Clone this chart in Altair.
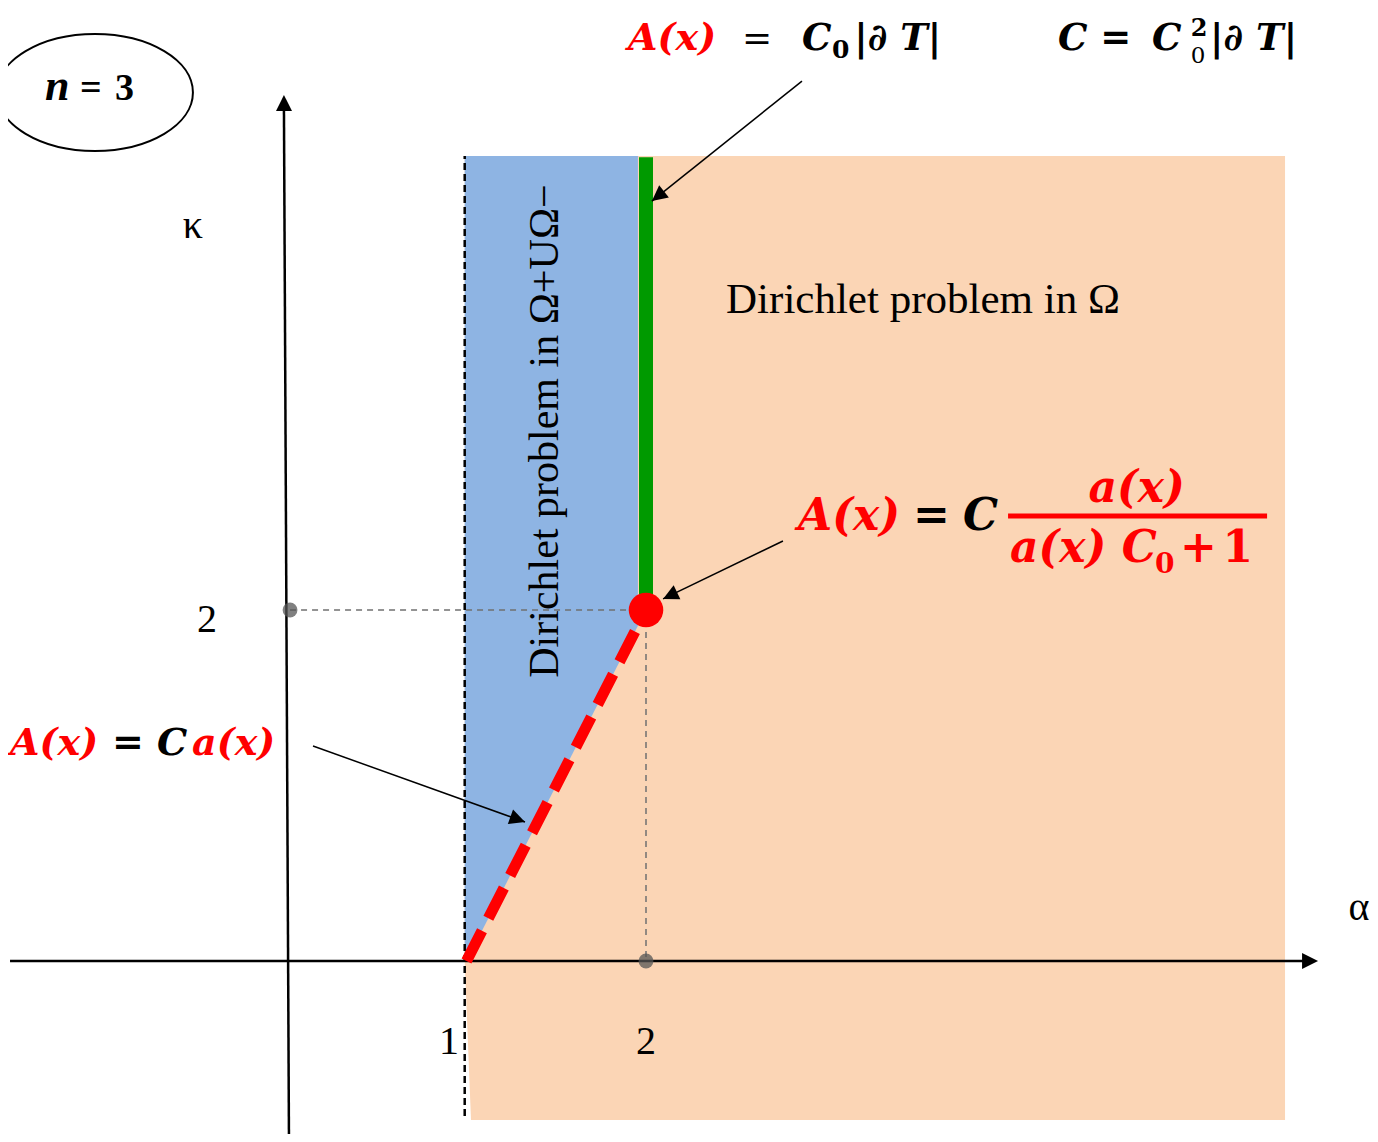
import math
import altair as alt
import pandas as pd

# ---------------- canvas / scale calibration (data units: alpha, kappa) ----------------
W, H = 1362, 1126
X_DOM = [-1.5543, 6.0334]
Y_DOM = [-0.9858, 5.4302]
PXA = W / (X_DOM[1] - X_DOM[0])   # px per unit alpha
PXK = H / (Y_DOM[1] - Y_DOM[0])   # px per unit kappa

xs = alt.Scale(domain=X_DOM, nice=False, zero=False)
ys = alt.Scale(domain=Y_DOM, nice=False, zero=False)

# ---------------- data ----------------
# peach region (Dirichlet problem in Omega)
peach_k = [-0.906, 0.0, 4.587]
peach_left = [1.025, 0.99, 0.99]
peach_right = [5.56, 5.56, 5.56]

# blue region (Dirichlet problem in Omega+ U Omega-)
blue_a = [0.99, 1.0, 1.955]
blue_top = [4.587, 4.587, 4.587]
blue_bot = [0.0, 0.0, 1.91]

# green boundary alpha = 2, kappa >= 2
green_seg = [[2.0, 2.05, 2.0, 4.58]]
# red dashed boundary kappa = 2(alpha - 1)
red_seg = [[1.0, 0.0, 2.0, 2.0]]
# critical point
crit_a, crit_k = [2.0], [2.0]
# gray guide lines and dots
guide_segs = [[0.017, 2.0, 2.0, 2.0], [2.0, 2.0, 2.0, 0.0]]
dot_a, dot_k = [0.017, 2.0], [2.0, 0.0]
# black dashed line alpha = 1
vdash_seg = [[0.99, -0.883, 0.99, 4.587]]
# coordinate axes: [start_a, start_k, end_a, end_k], tips
axis_segs = [[-1.543, 0.0, 5.66, 0.0], [0.011, -1.02, -0.017, 4.85]]
axis_tips = [[5.744, 0.0], [-0.017, 4.934]]
# annotation arrows: start -> tip
arrow_start = [[2.869, 5.014], [2.763, 2.393], [0.145, 1.225]]
arrow_tip = [[2.033, 4.330], [2.095, 2.063], [1.326, 0.792]]

# labels
tick_text = ["1", "2", "2"]
tick_a = [0.903, 2.0, -0.446]
tick_k = [-0.530, -0.530, 1.875]
axis_names = ["κ", "α"]
axis_name_a = [-0.524, 5.972]
axis_name_k = [4.12, 0.234]

# ---------------- helpers ----------------
def seg_df(segs):
    return pd.DataFrame(segs, columns=["a", "k", "a2", "k2"])


def rule_layer(segs, **mk):
    return alt.Chart(seg_df(segs)).mark_rule(**mk).encode(
        x=alt.X("a:Q", scale=xs, axis=None),
        y=alt.Y("k:Q", scale=ys, axis=None),
        x2="a2:Q",
        y2="k2:Q",
    )


def heading(p_from, p_to):
    dx = (p_to[0] - p_from[0]) * PXA
    dy = -(p_to[1] - p_from[1]) * PXK
    return math.degrees(math.atan2(dx, -dy)) % 360


def text_layer(texts, a, k, **mk):
    df = pd.DataFrame({"t": texts, "a": a, "k": k})
    return alt.Chart(df).mark_text(**mk).encode(
        x=alt.X("a:Q", scale=xs, axis=None),
        y=alt.Y("k:Q", scale=ys, axis=None),
        text="t:N",
    )


PEACH = "#FBD5B5"
BLUE = "#8EB4E3"
GREEN = "#009A00"
RED = "#FF0000"
SERIF = "Liberation Serif"
MATH = "DejaVu Serif"

BI = dict(font=MATH, fontWeight="bold", fontStyle="italic", align="left", baseline="alphabetic")

# ---------------- layers ----------------
peach = alt.Chart(pd.DataFrame({"k": peach_k, "a": peach_left, "a2": peach_right})).mark_area(
    orient="horizontal", color=PEACH, opacity=1
).encode(
    y=alt.Y("k:Q", scale=ys, axis=None),
    x=alt.X("a:Q", scale=xs, axis=None),
    x2="a2:Q",
)

blue = alt.Chart(pd.DataFrame({"a": blue_a, "k": blue_top, "k2": blue_bot})).mark_area(
    color=BLUE, opacity=1
).encode(
    x=alt.X("a:Q", scale=xs, axis=None),
    y=alt.Y("k:Q", scale=ys, axis=None),
    y2="k2:Q",
)

vdash = rule_layer(vdash_seg, color="black", strokeWidth=2.5, strokeDash=[7, 4])
guides = rule_layer(guide_segs, color="#707070", strokeWidth=1.5, strokeDash=[6, 5])
axes = rule_layer(axis_segs, color="black", strokeWidth=2.5)
green = rule_layer(green_seg, color=GREEN, strokeWidth=14, strokeCap="butt")
red = rule_layer(red_seg, color=RED, strokeWidth=11, strokeDash=[34, 14], strokeCap="butt")

crit = alt.Chart(pd.DataFrame({"a": crit_a, "k": crit_k})).mark_point(
    shape="circle", filled=True, size=1195, color=RED, opacity=1
).encode(x=alt.X("a:Q", scale=xs, axis=None), y=alt.Y("k:Q", scale=ys, axis=None))

dots = alt.Chart(pd.DataFrame({"a": dot_a, "k": dot_k})).mark_point(
    shape="circle", filled=True, size=220, color="#555555", opacity=0.75
).encode(x=alt.X("a:Q", scale=xs, axis=None), y=alt.Y("k:Q", scale=ys, axis=None))

arrow_lines = rule_layer(
    [[s[0], s[1], t[0], t[1]] for s, t in zip(arrow_start, arrow_tip)],
    color="black", strokeWidth=1.5,
)

HEAD = "M0,0L1,2L-1,2Z"
heads = []
for seg, tip in zip(axis_segs, axis_tips):
    heads.append({"a": tip[0], "k": tip[1], "ang": heading((seg[0], seg[1]), tip), "s": 256})
for s, t in zip(arrow_start, arrow_tip):
    heads.append({"a": t[0], "k": t[1], "ang": heading(s, t), "s": 240})
arrowheads = alt.Chart(pd.DataFrame(heads)).mark_point(
    shape=HEAD, filled=True, color="black", opacity=1
).encode(
    x=alt.X("a:Q", scale=xs, axis=None),
    y=alt.Y("k:Q", scale=ys, axis=None),
    angle=alt.Angle("ang:Q", scale=None),
    size=alt.Size("s:Q", scale=None),
)

ELLIPSE = ("M-1,0C-1,-0.33 -0.5523,-0.597 0,-0.597C0.5523,-0.597 1,-0.33 1,0"
           "C1,0.33 0.5523,0.597 0,0.597C-0.5523,0.597 -1,0.33 -1,0Z")
ellipse = alt.Chart(pd.DataFrame({"a": [-1.070], "k": [4.949]})).mark_point(
    shape=ELLIPSE, filled=False, stroke="black", strokeWidth=2, size=38416, opacity=1
).encode(x=alt.X("a:Q", scale=xs, axis=None), y=alt.Y("k:Q", scale=ys, axis=None))

# ---------------- texts ----------------
texts = [
    # n = 3
    text_layer(["n"], [-1.348], [4.906], font=SERIF, fontSize=44, fontWeight="bold",
               fontStyle="italic", align="left", baseline="alphabetic", color="black"),
    text_layer(["="], [-1.153], [4.906], font=SERIF, fontSize=38, fontWeight="bold",
               align="left", baseline="alphabetic", color="black"),
    text_layer(["3"], [-0.958], [4.906], font=SERIF, fontSize=38, fontWeight="bold",
               align="left", baseline="alphabetic", color="black"),
    # axis names and ticks
    text_layer(axis_names, axis_name_a, axis_name_k, font=SERIF, fontSize=40,
               align="center", baseline="alphabetic", color="black"),
    text_layer(tick_text, tick_a, tick_k, font=SERIF, fontSize=40,
               align="center", baseline="alphabetic", color="black"),
    # region labels
    text_layer(["Dirichlet problem in Ω"], [2.446], [3.692], font=SERIF, fontSize=43,
               align="left", baseline="alphabetic", color="black"),
    text_layer(["Dirichlet problem in Ω+UΩ−"], [1.437], [3.020], font=SERIF, fontSize=42,
               angle=270, align="center", baseline="middle", color="black"),
    # top formula A(x) = C0|dT|
    text_layer(["A(x)"], [1.900], [5.191], fontSize=38, color=RED, **BI),
    text_layer(["="], [2.535], [5.191], font=MATH, fontSize=36,
               align="left", baseline="alphabetic", color="black"),
    text_layer(["C"], [2.869], [5.191], fontSize=37, color="black", **BI),
    text_layer(["0"], [3.036], [5.145], font=MATH, fontSize=25, fontWeight="bold",
               align="left", baseline="alphabetic", color="black"),
    text_layer(["|∂ T|"], [3.160], [5.191], fontSize=37, color="black", **BI),
    # C = C0^2 |dT|
    text_layer(["C ="], [4.295], [5.191], fontSize=37, color="black", **BI),
    text_layer(["C"], [4.819], [5.191], fontSize=37, color="black", **BI),
    text_layer(["2"], [5.035], [5.272], font=MATH, fontSize=24, fontWeight="bold",
               align="left", baseline="alphabetic", color="black"),
    text_layer(["0"], [5.035], [5.115], font=MATH, fontSize=23,
               align="left", baseline="alphabetic", color="black"),
    text_layer(["|∂ T|"], [5.142], [5.191], fontSize=37, color="black", **BI),
    # fraction formula
    text_layer(["A(x)"], [2.847], [2.456], fontSize=44, color=RED, **BI),
    text_layer(["="], [3.487], [2.456], font=MATH, fontSize=44, fontWeight="bold",
               align="left", baseline="alphabetic", color="black"),
    text_layer(["C"], [3.766], [2.456], fontSize=44, color="black", **BI),
    text_layer(["a(x)"], [4.733], [2.615], font=MATH, fontSize=44, fontWeight="bold",
               fontStyle="italic", align="center", baseline="alphabetic", color=RED),
    text_layer(["a(x) C"], [4.028], [2.274], fontSize=44, color=RED, **BI),
    text_layer(["0"], [4.836], [2.212], font=MATH, fontSize=28, fontWeight="bold",
               align="left", baseline="alphabetic", color=RED),
    text_layer(["+"], [4.975], [2.274], font=MATH, fontSize=44, fontWeight="bold",
               align="left", baseline="alphabetic", color=RED),
    text_layer(["1"], [5.382], [2.274], font=MATH, fontSize=44, fontWeight="bold",
               align="right", baseline="alphabetic", color=RED),
    # lower-left formula A(x) = C a(x)
    text_layer(["A(x)"], [-1.543], [1.174], fontSize=38, color=RED, **BI),
    text_layer(["="], [-0.975], [1.174], font=MATH, fontSize=38, fontWeight="bold",
               align="left", baseline="alphabetic", color="black"),
    text_layer(["C"], [-0.724], [1.174], fontSize=38, color="black", **BI),
    text_layer(["a(x)"], [-0.529], [1.174], fontSize=38, color=RED, **BI),
]

frac_bar = rule_layer([[4.017, 2.536, 5.460, 2.536]], color=RED, strokeWidth=5)

chart = alt.layer(
    peach, blue, vdash, guides, axes, green, red, crit, dots,
    arrow_lines, arrowheads, ellipse, frac_bar, *texts
).properties(
    width=W, height=H, padding=0, autosize=alt.AutoSizeParams(type="none"),
    background="white",
).configure_view(stroke=None)

chart.save("out.html", embed_options={"renderer": "svg", "actions": False})
